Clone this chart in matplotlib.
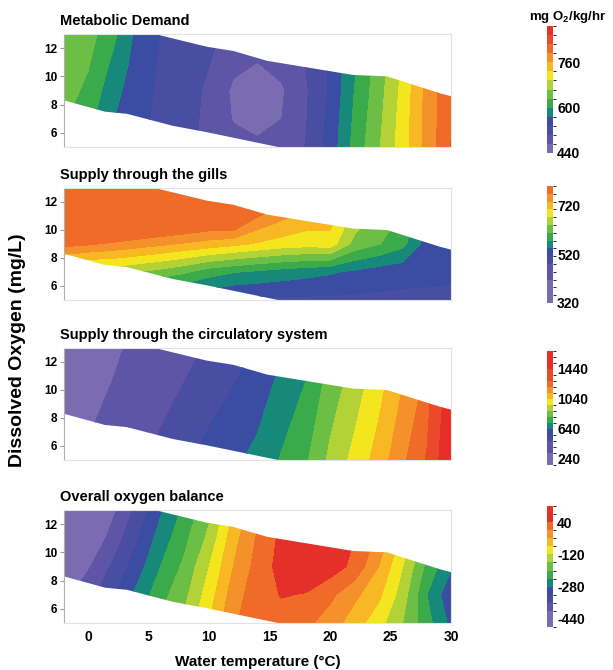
import matplotlib.pyplot as plt
import numpy as np
from matplotlib.colors import ListedColormap, BoundaryNorm
from matplotlib.cm import ScalarMappable
from matplotlib.patches import Polygon

plt.rcParams['font.family'] = ['Liberation Sans', 'DejaVu Sans']
plt.rcParams['font.weight'] = 'bold'
plt.rcParams['axes.unicode_minus'] = False
plt.rcParams['mathtext.fontset'] = 'custom'
plt.rcParams['mathtext.rm'] = 'Liberation Sans'
plt.rcParams['mathtext.bf'] = 'Liberation Sans:bold'

# grid: water temperature (deg C) x dissolved oxygen (mg/L)
temps = np.arange(-2, 31, 2)
oxy = np.array([5, 7, 9, 11, 13])

# edges of the sampled region
top_t = [-2, 5.5, 9.8, 12, 14.8, 21.9, 24.7, 29.1, 30]
top_do = [13, 13, 12.1, 11.8, 11.1, 10.1, 10.0, 8.8, 8.6]
low_t = [-2, 1.4, 3.2, 7.0, 9.8, 15.7, 30]
low_do = [8.3, 7.5, 7.35, 6.5, 6.05, 5.0, 5.0]

pal = {'LP': '#7B6BB1', 'PU': '#5F55A7', 'BP': '#4A4EA3', 'BL': '#3B4DA2',
       'TE': '#16897A', 'GR': '#3BAA4A', 'LG': '#6DBE45', 'YG': '#B3D236',
       'YE': '#F3E61F', 'OY': '#F8B824', 'OR': '#F4912A', 'DO': '#EF6B27',
       'RO': '#EA4A29', 'RE': '#E5302A'}

titles = ["Metabolic Demand", "Supply through the gills",
          "Supply through the circulatory system", "Overall oxygen balance"]

# rows: DO 5, 7, 9, 11, 13 ; columns: temps
demand = [
    [625, 600, 565, 540, 525, 512, 495, 482, 476, 485, 505, 548, 610, 660, 712, 772, 825],
    [635, 610, 570, 545, 528, 515, 496, 470, 465, 472, 502, 545, 605, 655, 710, 770, 820],
    [645, 625, 580, 550, 530, 517, 498, 466, 460, 468, 500, 540, 600, 650, 705, 770, 820],
    [655, 635, 595, 555, 532, 520, 505, 480, 472, 482, 505, 540, 595, 645, 700, 765, 815],
    [660, 645, 610, 560, 535, 522, 510, 495, 485, 490, 505, 535, 590, 640, 700, 760, 810],
]
gills = [
    [540, 535, 530, 525, 522, 520, 515, 505, 505, 505, 505, 505, 505, 505, 505, 505, 505],
    [660, 648, 650, 640, 628, 612, 590, 578, 570, 562, 555, 548, 538, 528, 522, 520, 518],
    [780, 772, 762, 752, 742, 732, 722, 712, 700, 690, 685, 688, 630, 610, 585, 530, 528],
    [880, 870, 860, 850, 840, 830, 820, 830, 770, 745, 725, 720, 660, 630, 605, 540, 540],
    [950, 940, 930, 920, 910, 900, 890, 870, 840, 805, 780, 740, 690, 650, 625, 550, 550],
]
circ = [
    [298, 338, 388, 448, 508, 548, 588, 623, 663, 728, 788, 898, 983, 1073, 1183, 1288, 1598],
    [274, 314, 364, 424, 484, 524, 564, 599, 639, 704, 764, 874, 959, 1049, 1159, 1264, 1574],
    [250, 290, 340, 400, 460, 500, 540, 575, 615, 680, 740, 850, 935, 1025, 1135, 1240, 1550],
    [226, 266, 316, 376, 436, 476, 516, 551, 591, 656, 716, 826, 911, 1001, 1111, 1216, 1526],
    [202, 242, 292, 352, 412, 452, 492, 527, 567, 632, 692, 802, 887, 977, 1087, 1192, 1502],
]
balance = [
    [-380, -345, -300, -245, -190, -150, -80, -5, 20, 25, 10, -20, -60, -105, -160, -225, -290],
    [-410, -375, -325, -270, -215, -170, -100, -20, 25, 42, 38, 10, -30, -70, -140, -240, -310],
    [-440, -405, -355, -300, -240, -190, -120, -40, 15, 55, 65, 60, 30, -40, -120, -210, -275],
    [-470, -440, -385, -325, -262, -210, -150, -55, 5, 50, 70, 60, 40, -10, -90, -180, -250],
    [-490, -465, -410, -350, -285, -230, -170, -80, -10, 20, 30, 30, 20, -20, -80, -160, -230],
]
values = [demand, gills, circ, balance]

levels = [
    np.arange(440, 889, 32),
    np.arange(320, 801, 32),
    np.arange(160, 1681, 80),
    np.arange(-480, 121, 40),
]
bands = [
    ['LP', 'PU', 'BP', 'BL', 'TE', 'GR', 'LG', 'YG', 'YE', 'OY', 'OR', 'DO', 'RO', 'RE'],
    ['LP', 'LP', 'LP', 'PU', 'PU', 'BP', 'BL', 'TE', 'GR', 'LG', 'YG', 'YE', 'OY', 'OR', 'DO'],
    ['LP', 'LP', 'PU', 'PU', 'BP', 'BL', 'TE', 'GR', 'LG', 'YG', 'YE', 'OY', 'OR', 'DO',
     'RO', 'RO', 'RE', 'RE', 'RE'],
    ['LP', 'LP', 'PU', 'BP', 'BL', 'TE', 'GR', 'LG', 'YG', 'YE', 'OY', 'OR', 'DO', 'RE', 'RE'],
]
cbar_ticks = [[440, 600, 760], [320, 520, 720], [240, 640, 1040, 1440], [-440, -280, -120, 40]]

W, H = 613, 670
fig = plt.figure(figsize=(W / 100, H / 100), dpi=100)

ax_px = [(34, 147), (188, 300), (348, 460), (510, 623)]
cb_px = [(26, 153), (186, 303), (351, 465), (506, 627)]

X, Y = np.meshgrid(temps, oxy)
outline = np.column_stack([top_t + low_t[::-1], top_do + low_do[::-1]])

for i in range(4):
    y0, y1 = ax_px[i]
    ax = fig.add_axes([64 / W, 1 - y1 / H, 387 / W, (y1 - y0) / H])
    cols = [pal[b] for b in bands[i]]
    cs = ax.contourf(X, Y, np.array(values[i]), levels=levels[i],
                     colors=[cols[0]] + cols + [cols[-1]], extend='both')
    clip = Polygon(outline, closed=True, transform=ax.transData,
                   facecolor='none', edgecolor='none')
    ax.add_patch(clip)
    cs.set_clip_path(clip)

    ax.set_xlim(-2, 30)
    ax.set_ylim(5, 13)
    ax.set_yticks([6, 8, 10, 12])
    ax.tick_params(axis='y', length=3, width=0.8, color='#999999', labelsize=8.5, pad=2)
    for side in ['top', 'right', 'bottom']:
        ax.spines[side].set_color('#e2e2e2')
        ax.spines[side].set_linewidth(0.8)
    ax.spines['left'].set_color('#b0b0b0')
    ax.spines['left'].set_linewidth(0.8)
    if i < 3:
        ax.set_xticks([])
    else:
        ax.set_xticks([0, 5, 10, 15, 20, 25, 30])
        ax.tick_params(axis='x', length=0, labelsize=10, pad=5)
        ax.set_xlabel("Water temperature (°C)", fontsize=11, fontweight='bold', labelpad=8)

    fig.text(60 / W, 1 - (y0 - 9) / H, titles[i], fontsize=10.5, ha='left', va='baseline')

    c0, c1 = cb_px[i]
    cax = fig.add_axes([547 / W, 1 - c1 / H, 6 / W, (c1 - c0) / H])
    sm = ScalarMappable(norm=BoundaryNorm(levels[i], len(cols)), cmap=ListedColormap(cols))
    cb = fig.colorbar(sm, cax=cax, ticks=cbar_ticks[i])
    cb.outline.set_visible(False)
    cax.tick_params(length=0, labelsize=10, pad=3)

fig.text(568 / W, 1 - 20 / H, r"mg O$_\mathbf{2}$/kg/hr", fontsize=9.5, ha='center', va='baseline')
fig.text(18 / W, 1 - 350 / H, "Dissolved Oxygen (mg/L)", fontsize=14, fontweight='bold',
         rotation=90, ha='center', va='center')

fig.savefig("out.png", dpi=100)
